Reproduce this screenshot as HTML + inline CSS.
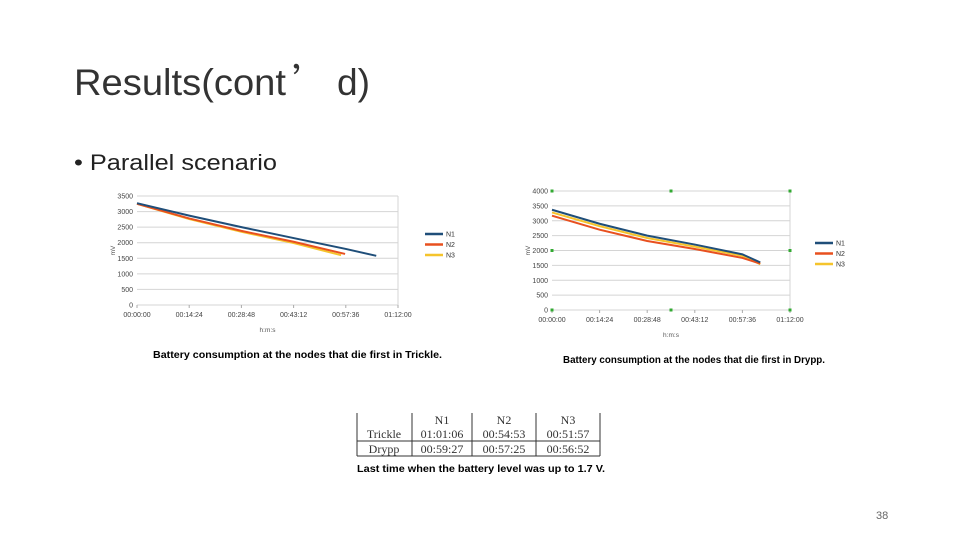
<!DOCTYPE html>
<html><head><meta charset="utf-8"><style>
body{margin:0;width:960px;height:540px;background:#fff;overflow:hidden;font-family:"Liberation Sans",sans-serif}
</style></head><body>
<svg width="960" height="540" viewBox="0 0 960 540">
<text x="74" y="95" font-size="37" fill="#333"><tspan textLength="212" lengthAdjust="spacingAndGlyphs">Results(cont</tspan><tspan x="292" font-family="'Noto Sans CJK SC',sans-serif">’</tspan><tspan x="337" textLength="33" lengthAdjust="spacingAndGlyphs">d)</tspan></text>
<text x="74" y="170" font-size="22" fill="#222" textLength="203" lengthAdjust="spacingAndGlyphs">• Parallel scenario</text>
<g id="c1"></g>
<g id="c2"></g>
<text x="153" y="358" font-size="10" font-weight="bold" fill="#000" textLength="289" lengthAdjust="spacingAndGlyphs">Battery consumption at the nodes that die first in Trickle.</text>
<text x="563" y="363" font-size="10" font-weight="bold" fill="#000" textLength="262" lengthAdjust="spacingAndGlyphs">Battery consumption at the nodes that die first in Drypp.</text>
<g font-family="Liberation Serif" font-size="12" fill="#333" text-anchor="middle">
<g stroke="#333" stroke-width="1">
<line x1="357" y1="413" x2="357" y2="456"/><line x1="412" y1="413" x2="412" y2="456"/>
<line x1="472" y1="413" x2="472" y2="456"/><line x1="536" y1="413" x2="536" y2="456"/><line x1="600" y1="413" x2="600" y2="456"/>
<line x1="357" y1="441" x2="600" y2="441"/><line x1="357" y1="456" x2="600" y2="456"/>
</g>
<text x="442" y="424">N1</text><text x="504" y="424">N2</text><text x="568" y="424">N3</text>
<text x="384" y="438">Trickle</text><text x="442" y="438">01:01:06</text><text x="504" y="438">00:54:53</text><text x="568" y="438">00:51:57</text>
<text x="384" y="453">Drypp</text><text x="442" y="453">00:59:27</text><text x="504" y="453">00:57:25</text><text x="568" y="453">00:56:52</text>
</g>
<text x="357" y="472" font-size="10" font-weight="bold" fill="#000" textLength="248" lengthAdjust="spacingAndGlyphs">Last time when the battery level was up to 1.7 V.</text>
<text x="876" y="519" font-size="11" fill="#666">38</text>
</svg>
<script>
const xTicks=["00:00:00","00:14:24","00:28:48","00:43:12","00:57:36","01:12:00"];
const seriesNames=["N1","N2","N3"];
const colors=["#1f4e79","#e8501f","#f5c42c"];
const t1Time=[[0,14.4,28.8,43.2,57.6,66],[0,14.4,28.8,43.2,57.4],[0,14.4,28.8,43.2,56.3]];
const t1Vals=[[3270,2870,2500,2150,1800,1580],[3250,2780,2380,2030,1640],[3250,2760,2350,1990,1600]];
const t2Time=[[0,14.4,28.8,43.2,57.6,63],[0,14.4,28.8,43.2,57.6,63],[0,14.4,28.8,43.2,57.6,63]];
const t2Vals=[[3370,2900,2500,2200,1870,1600],[3170,2700,2320,2050,1750,1560],[3280,2820,2420,2130,1820,1540]];
const y1Ticks=[0,500,1000,1500,2000,2500,3000,3500];
const y2Ticks=[0,500,1000,1500,2000,2500,3000,3500,4000];
const NS="http://www.w3.org/2000/svg";
function mk(p,tag,a){const e=document.createElementNS(NS,tag);for(const k in a)e.setAttribute(k,a[k]);p.appendChild(e);return e;}
function chart(g,o,times,vals,yT,yMax,mv){
 const x=m=>o.l+(o.r-o.l)*m/72, y=v=>o.b-(o.b-o.t)*v/yMax;
 yT.forEach(v=>{const ln=mk(g,'line',{x1:o.l,x2:o.r,y1:y(v),y2:y(v),stroke:'#d4d4d4','stroke-width':1});
  
  const t=mk(g,'text',{x:o.l-4,y:y(v)+2.5,'font-size':7,'text-anchor':'end',fill:'#444'});t.textContent=v;
  });
 mk(g,'line',{x1:o.r,x2:o.r,y1:o.t,y2:o.b,stroke:'#d4d4d4'});
 xTicks.forEach((s,i)=>{const xx=x(i*14.4);mk(g,'line',{x1:xx,x2:xx,y1:o.b,y2:o.b+3,stroke:'#aaa'});
  const t=mk(g,'text',{x:xx,y:o.b+12,'font-size':7,'text-anchor':'middle',fill:'#444'});t.textContent=s;
  });
 const xt=mk(g,'text',{x:(o.l+o.r)/2,y:o.b+27,'font-size':6.5,'text-anchor':'middle',fill:'#555'});xt.textContent='h:m:s';
 
 const yt=mk(g,'text',{x:0,y:0,'font-size':6.5,'text-anchor':'middle',fill:'#555',transform:`translate(${o.l-22},${(o.t+o.b)/2}) rotate(-90)`});yt.textContent='mV';
 
 [2,1,0].forEach(i=>{const pts=times[i].map((m,j)=>x(m)+','+y(vals[i][j])).join(' ');
  const p=mk(g,'polyline',{points:pts,fill:'none',stroke:colors[i],'stroke-width':2});
  });
 seriesNames.forEach((n,i)=>{const ly=o.ly+i*10.5;
  mk(g,'line',{x1:o.lx,x2:o.lx+18,y1:ly,y2:ly,stroke:colors[i],'stroke-width':2.5});
  const t=mk(g,'text',{x:o.lx+21,y:ly+2.5,'font-size':7,fill:'#333'});t.textContent=n;
  });
 if(mv){[[o.l,o.t],[(o.l+o.r)/2,o.t],[o.r,o.t],[o.l,(o.t+o.b)/2],[o.r,(o.t+o.b)/2],[o.l,o.b],[(o.l+o.r)/2,o.b],[o.r,o.b]].forEach(([a,b])=>mk(g,'rect',{x:a-1.5,y:b-1.5,width:3,height:3,fill:'#3a3'}));}
}
chart(document.getElementById('c1'),{l:137,r:398,t:196,b:305,lx:425,ly:234},t1Time,t1Vals,y1Ticks,3500,false);
chart(document.getElementById('c2'),{l:552,r:790,t:191,b:310,lx:815,ly:243},t2Time,t2Vals,y2Ticks,4000,true);
</script>
</body></html>
